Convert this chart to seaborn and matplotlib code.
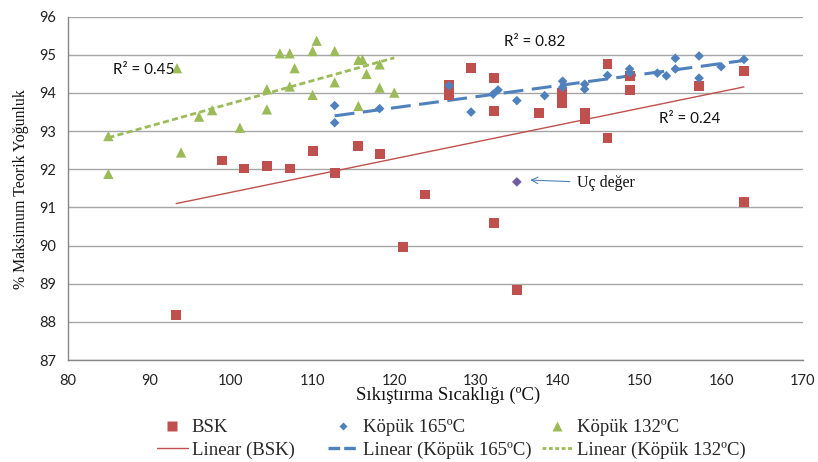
import matplotlib
matplotlib.use("Agg")
import matplotlib.pyplot as plt
import seaborn as sns
import numpy as np
import pandas as pd
from matplotlib.lines import Line2D

sns.set_style("white")
plt.rcParams['font.family'] = ['Liberation Serif', 'DejaVu Serif']

# ---- data ----
bsk_x = [93.3, 98.9, 101.6, 104.4, 107.2, 110.0, 112.7, 115.6, 118.2, 121.1, 123.8,
         126.7, 126.7, 129.4, 132.2, 132.2, 132.2, 135.0, 137.7, 140.5, 140.5,
         143.3, 143.3, 146.1, 146.1, 148.8, 148.8, 157.3, 162.8, 162.8]
bsk_y = [88.18, 92.23, 92.02, 92.09, 92.02, 92.48, 91.91, 92.62, 92.39, 89.97, 91.34,
         94.21, 93.94, 94.65, 94.39, 93.53, 90.60, 88.84, 93.47, 94.01, 93.73,
         93.49, 93.31, 94.75, 92.83, 94.45, 94.08, 94.18, 94.58, 91.15]

k165_x = [112.7, 112.7, 118.2, 126.7, 129.4, 132.1, 132.7, 135.0, 138.4, 140.6, 140.6,
          143.3, 143.3, 146.1, 148.8, 148.8, 152.2, 153.3, 154.4, 154.4, 157.3, 157.3,
          160.0, 162.8]
k165_y = [93.67, 93.22, 93.59, 94.19, 93.50, 93.97, 94.08, 93.80, 93.93, 94.31, 94.15,
          94.23, 94.10, 94.46, 94.63, 94.53, 94.52, 94.45, 94.91, 94.63, 94.97, 94.39,
          94.69, 94.88]

outlier_x = [135.0]
outlier_y = [91.67]

k132_x = [85.0, 85.0, 93.4, 93.9, 96.1, 97.7, 101.1, 104.4, 104.4, 106.0, 107.2, 107.8,
          107.2, 110.0, 110.0, 110.5, 112.7, 112.7, 115.6, 116.1, 116.6, 118.2, 115.6,
          118.2, 120.0]
k132_y = [92.87, 91.88, 94.65, 92.44, 93.38, 93.55, 93.09, 94.10, 93.57, 95.04, 95.04, 94.65,
          94.17, 95.10, 93.95, 95.37, 95.10, 94.28, 94.87, 94.88, 94.50, 94.75, 93.66,
          94.14, 94.01]

r2_labels = ["R\u00b2 = 0.45", "R\u00b2 = 0.82", "R\u00b2 = 0.24"]

RED = "#C0504D"
BLUE = "#4F81BD"
GREEN = "#9BBB59"
PURPLE = "#6F5C9E"

W, H = 818, 462
fig = plt.figure(figsize=(W / 100, H / 100), dpi=100)
ax = fig.add_axes([67.5 / W, 1 - 360 / H, (802.8 - 67.5) / W, (360 - 16.7) / H])

df_b = pd.DataFrame({"x": bsk_x, "y": bsk_y})
df_1 = pd.DataFrame({"x": k165_x, "y": k165_y})
df_2 = pd.DataFrame({"x": k132_x, "y": k132_y})
df_o = pd.DataFrame({"x": outlier_x, "y": outlier_y})

# trend lines
sns.regplot(data=df_b, x="x", y="y", ax=ax, scatter=False, ci=None, truncate=True,
            line_kws=dict(color=RED, lw=1.0, zorder=2))
sns.regplot(data=df_1, x="x", y="y", ax=ax, scatter=False, ci=None, truncate=True,
            line_kws=dict(color=BLUE, lw=2.2, dashes=(6.5, 2.8), zorder=2))
sns.regplot(data=df_2, x="x", y="y", ax=ax, scatter=False, ci=None, truncate=True,
            line_kws=dict(color=GREEN, lw=2.0, dashes=(2.2, 1.2), zorder=2))

# points
sns.scatterplot(data=df_b, x="x", y="y", ax=ax, marker="s", s=50, color=RED,
                edgecolor="none", zorder=3, legend=False)
sns.scatterplot(data=df_1, x="x", y="y", ax=ax, marker="D", s=24, color=BLUE,
                edgecolor="none", zorder=3, legend=False)
sns.scatterplot(data=df_o, x="x", y="y", ax=ax, marker="D", s=24, color=PURPLE,
                edgecolor="none", zorder=3, legend=False)
sns.scatterplot(data=df_2, x="x", y="y", ax=ax, marker="^", s=55, color=GREEN,
                edgecolor="none", zorder=3, legend=False)

ax.set_xlim(80, 170)
ax.set_ylim(87, 96)
ax.set_xticks(range(80, 171, 10))
ax.set_yticks(range(87, 97))
ax.grid(axis="y", color="#A6A6A6", lw=1.0)
ax.grid(axis="x", visible=False)
ax.set_axisbelow(True)
for s in ["top", "right"]:
    ax.spines[s].set_visible(False)
for s in ["left", "bottom"]:
    ax.spines[s].set_color("#868686")
    ax.spines[s].set_linewidth(1.0)
ax.tick_params(axis="both", which="both", direction="out", length=4, width=1,
               color="#868686", labelsize=10.5, labelcolor="#222222")
for lab in ax.get_xticklabels() + ax.get_yticklabels():
    lab.set_fontfamily(["Lato", "DejaVu Sans"])
ax.tick_params(axis="x", pad=6)
ax.tick_params(axis="y", pad=4)

ax.set_xlabel("")
ax.set_ylabel("")
fig.text(448 / W, 1 - 395 / H, "Sıkıştırma Sıcaklığı (ºC)", ha="center", va="center",
         fontsize=13.5, color="#111111")
fig.text(21 / W, 1 - 189 / H, "% Maksimum Teorik Yoğunluk", ha="center", va="center",
         rotation=90, fontsize=11.4, color="#111111")

# R^2 labels
r2_pos = [(85.6, 94.6), (133.4, 95.34), (152.4, 93.32)]
for lab, (xx, yy) in zip(r2_labels, r2_pos):
    ax.text(xx, yy, lab, ha="left", va="center", fontsize=11,
            family=["Lato", "DejaVu Sans"], color="#111111")

# outlier annotation
ax.annotate("Uç değer", xy=(136.3, 91.72), xytext=(142.4, 91.64),
            ha="left", va="center", fontsize=11.5, color="#111111",
            arrowprops=dict(arrowstyle="->", color=BLUE, lw=0.8, shrinkA=3, shrinkB=2))

# legend: three columns placed individually (Excel-style spacing)
columns = [
    ([Line2D([], [], ls="none", marker="s", ms=7, color=RED, mec="none"),
      Line2D([], [], color=RED, lw=1.0)],
     ["BSK", "Linear (BSK)"], 157),
    ([Line2D([], [], ls="none", marker="D", ms=4.5, color=BLUE, mec="none"),
      Line2D([], [], color=BLUE, lw=2.4, dashes=(3.5, 1.2))],
     ["Köpük 165ºC", "Linear (Köpük 165ºC)"], 328),
    ([Line2D([], [], ls="none", marker="^", ms=7, color=GREEN, mec="none"),
      Line2D([], [], color=GREEN, lw=2.0, dashes=(1.4, 0.9))],
     ["Köpük 132ºC", "Linear (Köpük 132ºC)"], 542),
]
for hs, ls, x0 in columns:
    fig.legend(hs, ls, ncol=1, loc="upper left", bbox_to_anchor=(x0 / W, 1 - 419 / H),
               frameon=False, fontsize=13.5, handlelength=1.65, handletextpad=0.2,
               labelspacing=0.3, borderpad=0.0, borderaxespad=0.0)

fig.savefig("out.png", dpi=100)
